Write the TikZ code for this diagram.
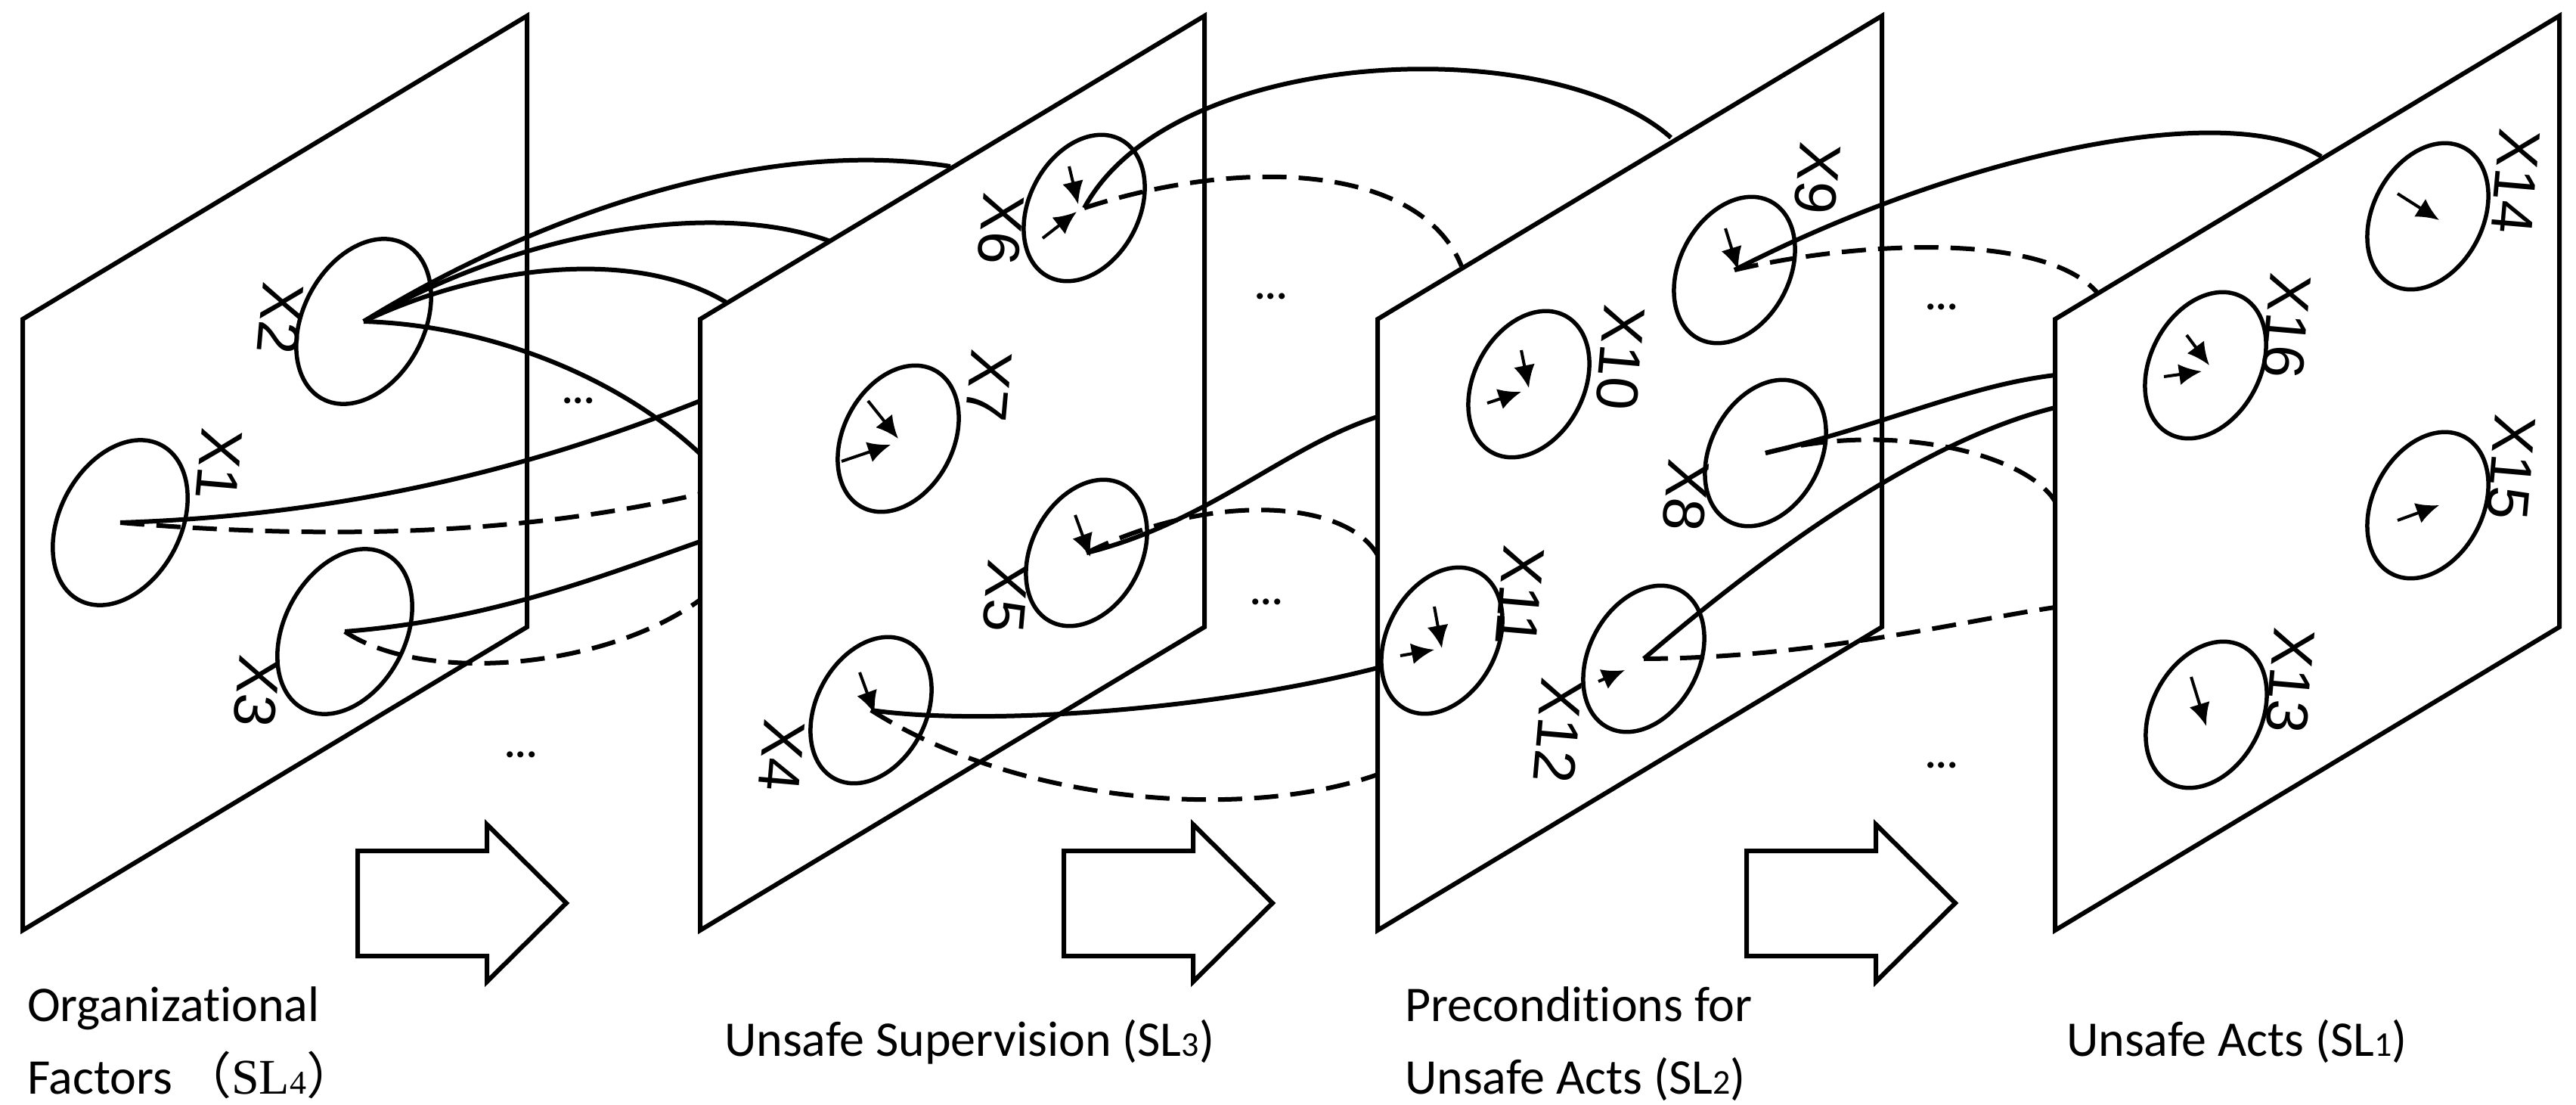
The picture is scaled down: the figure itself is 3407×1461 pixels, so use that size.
\documentclass[tikz,border=0pt]{standalone}
\usepackage{fontspec}
\setmainfont[Ligatures=NoCommon]{Carlito}
\newfontfamily\lab{Liberation Sans}
\newfontfamily\cjk{Noto Sans CJK SC}
\newfontfamily\ser{Liberation Serif}
\usetikzlibrary{shapes.geometric,arrows.meta,calc}
\begin{document}
\begin{tikzpicture}[x=1pt,y=-1pt,line width=6pt,
  panel/.style={draw,fill=white,line join=miter},
  nd/.style={draw,ellipse,line width=5.5pt,rotate=62,minimum width=205pt,minimum height=145pt,inner sep=0pt},
  big/.style={minimum width=232pt,minimum height=160pt},
  xl/.style={font=\lab\fontsize{78}{78}\selectfont,rotate=-95,inner sep=0pt},
  dsh/.style={dash pattern=on 32pt off 16pt},
  tip/.style={line width=4pt,-{Latex[length=30pt,width=28pt]}},
  dots/.style={font=\bfseries\fontsize{54}{54}\selectfont,inner sep=0pt},
  blk/.style={draw,fill=white,line width=6pt,line join=miter},
  caption/.style={font=\fontsize{66}{70}\selectfont,anchor=base west,inner sep=0pt,align=left}]
\useasboundingbox (0,0) rectangle (3407,1461);
% ---------- panel 1
\draw[panel] (30,422) -- (697,21) -- (697,829) -- (30,1230) -- cycle;
\node[nd,big] (x2) at (481,425) {};
\node[nd,big] (x1) at (159,691) {};
\node[nd,big] (x3) at (456,835) {};
\node[xl] (l1) at (290,614) {X1};
\node[xl] (l2) at (371,421) {X2};
\node[xl] (l3) at (340,914) {X3};
\coordinate (ea) at (1257,220); \coordinate (eb) at (1098,319);
\coordinate (ec) at (964,402);  \coordinate (ed) at (926,600);
\coordinate (ee) at (926,530);  \coordinate (ef) at (926,653);
\coordinate (eg) at (926,716);  \coordinate (eh) at (926,793);
\draw (x2.center) .. controls (700,290) and (1000,180) .. (ea);
\draw (x2.center) .. controls (700,300) and (950,265) .. (eb);
\draw (x2.center) .. controls (650,345) and (850,330) .. (ec);
\draw (x2.center) .. controls (650,430) and (820,500) .. (ed);
\draw (x1.center) .. controls (500,680) and (750,600) .. (ee);
\draw[dsh] (x1.center) .. controls (450,715) and (700,705) .. (ef);
\draw (x3.center) .. controls (650,820) and (800,760) .. (eg);
\draw[dsh] (x3.center) .. controls (560,905) and (800,885) .. (eh);
\node[dots] (d1) at (765,530) {...};
\node[dots] (d2) at (689,998) {...};
% ---------- panel 2
\draw[panel] (926,422) -- (1593,21) -- (1593,829) -- (926,1230) -- cycle;
\node[nd] (x6) at (1434,275) {};
\node[nd] (x7) at (1188,580) {};
\node[nd] (x5) at (1437,731) {};
\node[nd] (x4) at (1152,939) {};
\node[xl] (l6) at (1324,303) {X6};
\node[xl] (l7) at (1308,510) {X7};
\node[xl] (l5) at (1330,788) {X5};
\node[xl] (l4) at (1034,999) {X4};
\draw[tip] ($(x6.center)+(-20,-55)$) -- ($(x6.center)+(-8,-5)$);
\draw[tip] ($(x6.center)+(-55,40)$) -- ($(x6.center)+(-10,5)$);
\draw[tip] ($(x7.center)+(-40,-50)$) -- ($(x7.center)+(0,0)$);
\draw[tip] ($(x7.center)+(-75,30)$) -- ($(x7.center)+(-10,8)$);
\draw[tip] ($(x5.center)+(-15,-50)$) -- ($(x5.center)+(5,5)$);
\draw[tip] ($(x4.center)+(-15,-50)$) -- ($(x4.center)+(5,5)$);
\coordinate (ei) at (2210,182); \coordinate (ej) at (1933,352);
\coordinate (ek) at (1822,551); \coordinate (el) at (1822,734);
\coordinate (em) at (1822,883); \coordinate (en) at (1822,1024);
\draw (x6.center) .. controls (1550,60) and (2050,40) .. (ei);
\draw[dsh] (x6.center) .. controls (1650,205) and (1880,220) .. (ej);
\draw (x5.center) .. controls (1600,690) and (1700,590) .. (ek);
\draw[dsh] (x5.center) .. controls (1600,650) and (1780,660) .. (el);
\draw (x4.center) .. controls (1300,960) and (1600,940) .. (em);
\draw[dsh] (x4.center) .. controls (1350,1065) and (1650,1085) .. (en);
\node[dots] (d3) at (1681,392) {...};
\node[dots] (d4) at (1675,796) {...};
% ---------- panel 3
\draw[panel] (1822,422) -- (2489,21) -- (2489,829) -- (1822,1230) -- cycle;
\node[nd] (x9) at (2294,357) {};
\node[nd] (x10) at (2022,508) {};
\node[nd] (x8) at (2335,599) {};
\node[nd] (x11) at (1907,847) {};
\node[nd] (x12) at (2174,871) {};
\node[xl] (l9) at (2404,236) {X9};
\node[xl] (l10) at (2143,473) {X10};
\node[xl] (l8) at (2230,655) {X8};
\node[xl] (l11) at (2010,788) {X11};
\node[xl] (l12) at (2061,966) {X12};
\draw[tip] ($(x9.center)+(-12,-55)$) -- ($(x9.center)+(5,0)$);
\draw[tip] ($(x10.center)+(-10,-45)$) -- ($(x10.center)+(0,5)$);
\draw[tip] ($(x10.center)+(-55,25)$) -- ($(x10.center)+(-10,10)$);
\draw[tip] ($(x11.center)+(-10,-45)$) -- ($(x11.center)+(0,10)$);
\draw[tip] ($(x11.center)+(-55,20)$) -- ($(x11.center)+(-10,12)$);
\draw[tip] ($(x12.center)+(-60,30)$) -- ($(x12.center)+(-25,15)$);
\coordinate (eo) at (3070,207); \coordinate (ep) at (2773,386);
\coordinate (eq) at (2718,496); \coordinate (er) at (2718,663);
\coordinate (es) at (2718,539); \coordinate (et) at (2718,803);
\draw (x9.center) .. controls (2600,200) and (2950,130) .. (eo);
\draw[dsh] (x9.center) .. controls (2450,320) and (2700,305) .. (ep);
\draw (x8.center) .. controls (2500,560) and (2600,510) .. (eq);
\draw[dsh] (x8.center) .. controls (2500,555) and (2680,600) .. (er);
\draw (x12.center) .. controls (2350,720) and (2550,580) .. (es);
\draw[dsh] (x12.center) .. controls (2400,870) and (2600,820) .. (et);
\node[dots] (d5) at (2568,406) {...};
\node[dots] (d6) at (2568,1012) {...};
% ---------- panel 4
\draw[panel] (2718,422) -- (3385,21) -- (3385,829) -- (2718,1230) -- cycle;
\node[nd] (x14) at (3211,286) {};
\node[nd] (x16) at (2917,483) {};
\node[nd] (x15) at (3211,668) {};
\node[nd] (x13) at (2918,945) {};
\node[xl] (l14) at (3327,240) {X14};
\node[xl] (l16) at (3024,431) {X16};
\node[xl] (l15) at (3321,618) {X15};
\node[xl] (l13) at (3029,900) {X13};
\draw[tip] ($(x14.center)+(-40,-30)$) -- ($(x14.center)+(15,5)$);
\draw[tip] ($(x16.center)+(-25,-40)$) -- ($(x16.center)+(5,0)$);
\draw[tip] ($(x16.center)+(-55,15)$) -- ($(x16.center)+(-5,8)$);
\draw[tip] ($(x15.center)+(-40,20)$) -- ($(x15.center)+(15,0)$);
\draw[tip] ($(x13.center)+(-20,-50)$) -- ($(x13.center)+(0,15)$);
% ---------- block arrows
\draw[blk] (473,1125) -- (644,1125) -- (644,1090) -- (749,1194) -- (644,1298) -- (644,1264) -- (473,1264) -- cycle;
\draw[blk] (1407,1125) -- (1578,1125) -- (1578,1090) -- (1683,1194) -- (1578,1298) -- (1578,1264) -- (1407,1264) -- cycle;
\draw[blk] (2310,1125) -- (2481,1125) -- (2481,1090) -- (2586,1194) -- (2481,1298) -- (2481,1264) -- (2310,1264) -- cycle;
% ---------- captions
\node[caption] (c1) at (33,1350) {Organizational};
\node[caption] (c1b) at (33,1446) {Factors\hspace{12pt}{\cjk （}{\ser SL{\fontsize{44}{44}\selectfont 4}}{\cjk ）}};
\node[caption] (c2) at (955,1396) {Unsafe Supervision (SL{\fontsize{46}{46}\selectfont 3})};
\node[caption] (c3) at (1855,1350) {Preconditions for};
\node[caption] (c3b) at (1855,1446) {Unsafe Acts (SL{\fontsize{46}{46}\selectfont 2})};
\node[caption] (c4) at (2730,1396) {Unsafe Acts (SL{\fontsize{46}{46}\selectfont 1})};
\end{tikzpicture}
\end{document}
